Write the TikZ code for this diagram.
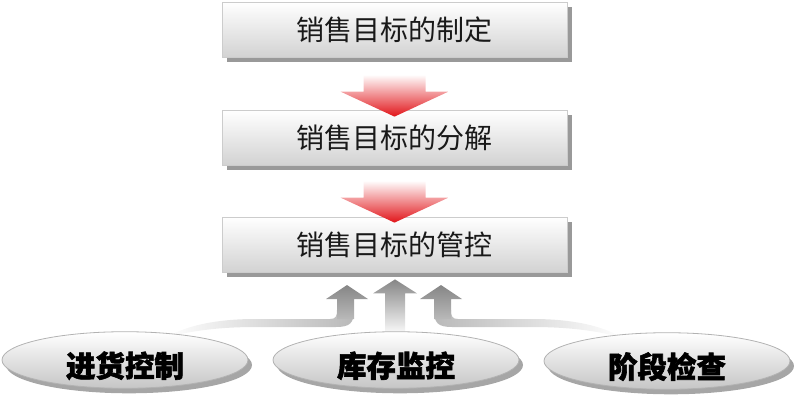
\documentclass[tikz,border=0pt]{standalone}
\usepackage{fontspec}
\newfontfamily\cjk{Noto Sans CJK SC}
\newfontfamily\cjkh{Noto Sans CJK SC}[BoldFeatures={FakeBold=2}]
\usetikzlibrary{shapes.geometric,shadows,calc}
\begin{document}
\begin{tikzpicture}[x=1pt,y=-1pt,
 box/.style={rectangle, minimum width=345pt, minimum height=55pt, top color=white, bottom color=gray!35, draw=gray!40, line width=0.8pt, font=\cjk\fontsize{28}{30}\selectfont, text=black!90, general shadow={fill=gray!80, shadow xshift=5pt, shadow yshift=-5pt}},
 oval/.style={ellipse, minimum width=246pt, minimum height=56pt, inner sep=0pt, text height=37pt, text depth=3pt, top color=white, bottom color=gray!45, draw=gray!60, line width=0.8pt, font=\cjkh\bfseries\fontsize{29.5}{31}\selectfont, text=black, general shadow={fill=gray!70, shadow xshift=4pt, shadow yshift=-5pt}},
 redarrow/.style={top color=white, bottom color={rgb,255:red,225;green,20;blue,25}, draw=none},
 grayarrow/.style={top color=gray!95, bottom color=white, draw=none},
 sidearrow/.style={top color=gray!95, bottom color=gray!55, draw=none},
 bandL/.style={left color=white, right color=gray!55, draw=none},
 bandR/.style={left color=gray!55, right color=white, draw=none}]
\useasboundingbox (0,0) rectangle (794,400);
% boxes
\node[box] (b1) at (394.5,29.5) {销售目标的制定};
\node[box] (b2) at (394.5,137.5) {销售目标的分解};
\node[box] (b3) at (394.5,244.5) {销售目标的管控};
% red arrows
\coordinate (t1) at ($(b2.north)+(0,7)$);
\shade[redarrow] ($(t1)+(-31,-42)$) -- ($(t1)+(31,-42)$) -- ($(t1)+(31,-25)$) -- ($(t1)+(54,-25)$) -- (t1) -- ($(t1)+(-54,-25)$) -- ($(t1)+(-31,-25)$) -- cycle;
\coordinate (t2) at ($(b3.north)+(0,6)$);
\shade[redarrow] ($(t2)+(-31,-42)$) -- ($(t2)+(31,-42)$) -- ($(t2)+(31,-25)$) -- ($(t2)+(54,-25)$) -- (t2) -- ($(t2)+(-54,-25)$) -- ($(t2)+(-31,-25)$) -- cycle;
% bands
\shade[bandL] (354,310) .. controls (354,323) and (350,327) .. (336,327) -- (255,327) .. controls (215,327) and (185,332) .. (165,338) .. controls (185,326) and (215,319) .. (255,319) -- (330,319) .. controls (336,319) and (337,316) .. (337,310) -- cycle;
\shade[bandR] (434,310) .. controls (434,323) and (438,327) .. (452,327) -- (533,327) .. controls (573,327) and (603,332) .. (623,338) .. controls (603,326) and (573,319) .. (533,319) -- (458,319) .. controls (452,319) and (451,316) .. (451,310) -- cycle;
% gray arrows
\coordinate (g1) at (347,285);
\coordinate (g2) at ($(b3.south)+(0.5,7)$);
\coordinate (g3) at (441,285);
\shade[sidearrow] (g1) -- ++(21,14) -- ++(-14,0) -- ++(0,20) -- ++(-17,0) -- ++(0,-20) -- ++(-11,0) -- cycle;
\shade[grayarrow] (g2) -- ++(22,14) -- ++(-12,0) -- ++(0,42) -- ++(-20,0) -- ++(0,-42) -- ++(-12,0) -- cycle;
\shade[sidearrow] (g3) -- ++(21,14) -- ++(-11,0) -- ++(0,20) -- ++(-17,0) -- ++(0,-20) -- ++(-14,0) -- cycle;
% ovals
\node[oval] (e1) at (125,360) {进货控制};
\node[oval] (e2) at (396,360) {库存监控};
\node[oval] (e3) at (667,361) {阶段检查};
\end{tikzpicture}
\end{document}
